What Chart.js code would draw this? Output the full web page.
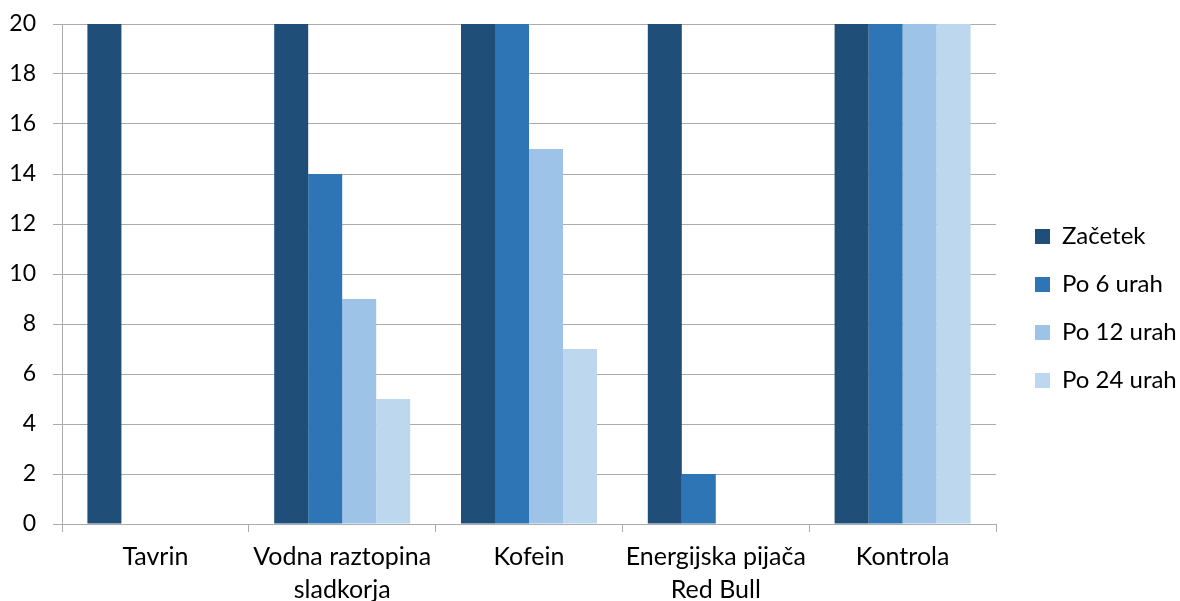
<!DOCTYPE html>
<html>
<head>
<meta charset="utf-8">
<script src="https://cdn.jsdelivr.net/npm/chart.js@4"></script>
<style>
  html, body { margin: 0; padding: 0; background: #ffffff; }
  #wrap { width: 1180px; height: 601px; position: relative; }
</style>
</head>
<body>
<div id="wrap"><canvas id="chart" width="1180" height="601"></canvas></div>
<script>
// Categories (multi-line labels as arrays)
const categories = [
  'Tavrin',
  ['Vodna raztopina', 'sladkorja'],
  'Kofein',
  ['Energijska pijača', 'Red Bull'],
  'Kontrola'
];

// Series values per time point
const zacetek  = [20, 20, 20, 20, 20];
const po6urah  = [0, 14, 20, 2, 20];
const po12urah = [0, 9, 15, 0, 20];
const po24urah = [0, 5, 7, 0, 20];

const seriesNames = ['Začetek', 'Po 6 urah', 'Po 12 urah', 'Po 24 urah'];
const seriesColors = ['#1F4E79', '#2E75B6', '#9DC3E6', '#BDD7EE'];

// Y axis range
const yMin = 0;
const yMax = 20;
const yStep = 2;

const FONT = 'Lato, "Liberation Sans", sans-serif';
const GRID = '#ABABAB';

// Layout of the plot frame
const PLOT_RIGHT = 996;
const Y_AXIS_WIDTH = 62;
const X_AXIS_HEIGHT = 77;

// Nudge the legend column away from the plot area
const legendOffset = {
  id: 'legendOffset',
  afterLayout(chart) {
    const lg = chart.legend;
    if (lg) {
      lg.left += 15; lg.right += 15;
      lg.top -= 4; lg.bottom -= 4;
    }
  }
};

const chart = new Chart(document.getElementById('chart'), {
  type: 'bar',
  data: {
    labels: categories,
    datasets: [zacetek, po6urah, po12urah, po24urah].map((vals, i) => ({
      label: seriesNames[i],
      data: vals,
      backgroundColor: seriesColors[i],
      borderWidth: 0,
      categoryPercentage: 0.728,
      barPercentage: 1.0
    }))
  },
  options: {
    responsive: false,
    animation: false,
    layout: { padding: { top: 24, left: 0, right: 0, bottom: 0 } },
    plugins: {
      tooltip: { enabled: false },
      legend: {
        position: 'right',
        labels: {
          boxWidth: 15,
          boxHeight: 15,
          padding: 24,
          color: '#000000',
          font: { family: FONT, size: 24 }
        }
      }
    },
    scales: {
      x: {
        afterFit(scale) {
          scale.height = X_AXIS_HEIGHT;
          scale.paddingLeft = 0;
          scale.paddingRight = 0;
        },
        grid: {
          offset: true,
          drawOnChartArea: false,
          drawTicks: true,
          tickLength: 8,
          color: GRID
        },
        border: { color: GRID, width: 1 },
        ticks: {
          color: '#000000',
          padding: 9,
          maxRotation: 0,
          autoSkip: false,
          font: { family: FONT, size: 25, lineHeight: 1.3 }
        }
      },
      y: {
        min: yMin,
        max: yMax,
        afterFit(scale) {
          scale.width = Y_AXIS_WIDTH;
          scale.paddingTop = 0;
          scale.paddingBottom = 0;
        },
        grid: {
          color: GRID,
          drawTicks: true,
          tickLength: 9
        },
        border: { color: GRID, width: 1 },
        ticks: {
          stepSize: yStep,
          color: '#000000',
          padding: 17,
          font: { family: FONT, size: 23 }
        }
      }
    }
  },
  plugins: [legendOffset]
});

// Size the right margin so the plot ends where the legend column begins
chart.options.layout.padding.right = chart.width - PLOT_RIGHT - chart.legend.width;
chart.update();
</script>
</body>
</html>
